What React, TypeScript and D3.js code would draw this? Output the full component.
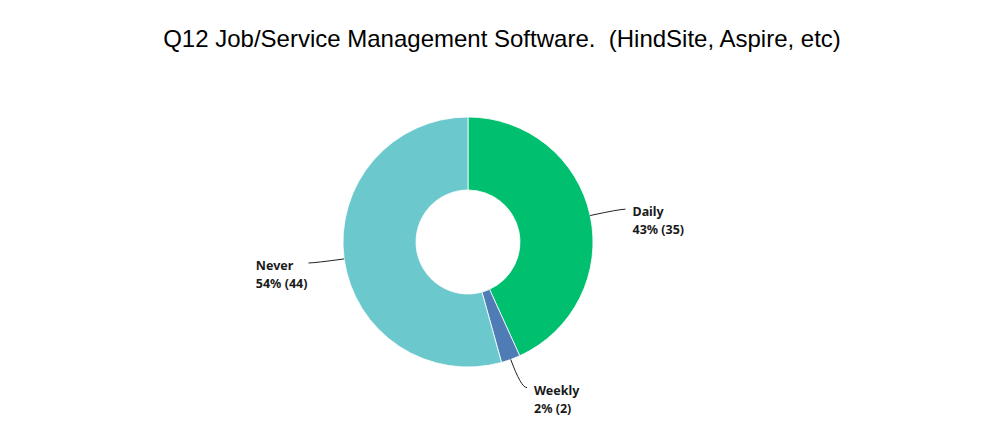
import { useEffect, useRef } from 'react';
import * as d3 from 'd3';

const title = 'Q12 Job/Service Management Software.  (HindSite, Aspire, etc)';
const categories = ['Daily', 'Weekly', 'Never'];
const counts = [35, 2, 44];
const percents = ['43%', '2%', '54%'];
const colors = ['#00bf6f', '#507cb6', '#6bc8cd'];

const App = () => {
  const ref = useRef<SVGSVGElement>(null);

  useEffect(() => {
    if (!ref.current) return;
    const svg = d3.select(ref.current);
    svg.selectAll('*').remove();

    const width = 1000;
    const cx = 468;
    const cy = 242;
    const outer = 125;
    const inner = 52;

    // title keeps its double space
    svg.append('text')
      .attr('x', width / 2 + 2)
      .attr('y', 47)
      .attr('text-anchor', 'middle')
      .attr('xml:space', 'preserve')
      .style('white-space', 'pre')
      .style('font-family', '"Liberation Sans", Arial, sans-serif')
      .style('font-size', '24px')
      .style('fill', '#000')
      .text(title);

    const data = categories.map((c, i) => ({ name: c, value: counts[i], pct: percents[i], color: colors[i] }));
    const pie = d3.pie<typeof data[0]>().value(d => d.value).sort(null);
    const arc = d3.arc<d3.PieArcDatum<typeof data[0]>>().innerRadius(inner).outerRadius(outer);
    const arcs = pie(data);

    const g = svg.append('g').attr('transform', `translate(${cx},${cy})`);

    g.selectAll('path.slice')
      .data(arcs)
      .enter()
      .append('path')
      .attr('class', 'slice')
      .attr('d', arc)
      .attr('fill', d => d.data.color)
      .attr('stroke', '#fff')
      .attr('stroke-width', 0.8);

    const polar = (r: number, a: number) => [r * Math.sin(a), -r * Math.cos(a)];

    arcs.forEach(d => {
      const mid = (d.startAngle + d.endAngle) / 2;
      const right = Math.sin(mid) >= 0;
      const [sx, sy] = polar(outer, mid);
      const [qx, qy] = polar(155, mid);
      const ex = qx + (right ? 6 : -6);
      const ey = qy;

      g.append('path')
        .attr('d', `M${sx},${sy}Q${qx},${qy} ${ex},${ey}`)
        .attr('fill', 'none')
        .attr('stroke', '#222')
        .attr('stroke-width', 1);

      const label = g.append('g');
      const t = label.append('text')
        .style('font-family', '"Noto Sans", sans-serif')
        .style('font-size', '12.5px')
        .style('font-weight', 'bold')
        .style('fill', '#1a1a1a');
      t.append('tspan').attr('x', 0).attr('y', 0).text(d.data.name);
      t.append('tspan').attr('x', 0).attr('y', 18).text(`${d.data.pct} (${d.data.value})`);

      const w = (t.node() as SVGTextElement).getBBox().width;
      const lx = right ? ex + 7 : ex - 1 - w;
      label.attr('transform', `translate(${lx},${ey + 7})`);
    });
  }, []);

  return (
    <svg ref={ref} width={1000} height={430} style={{ display: 'block', position: 'absolute', left: 0, top: 0, background: '#fff' }} />
  );
};

export default App;
